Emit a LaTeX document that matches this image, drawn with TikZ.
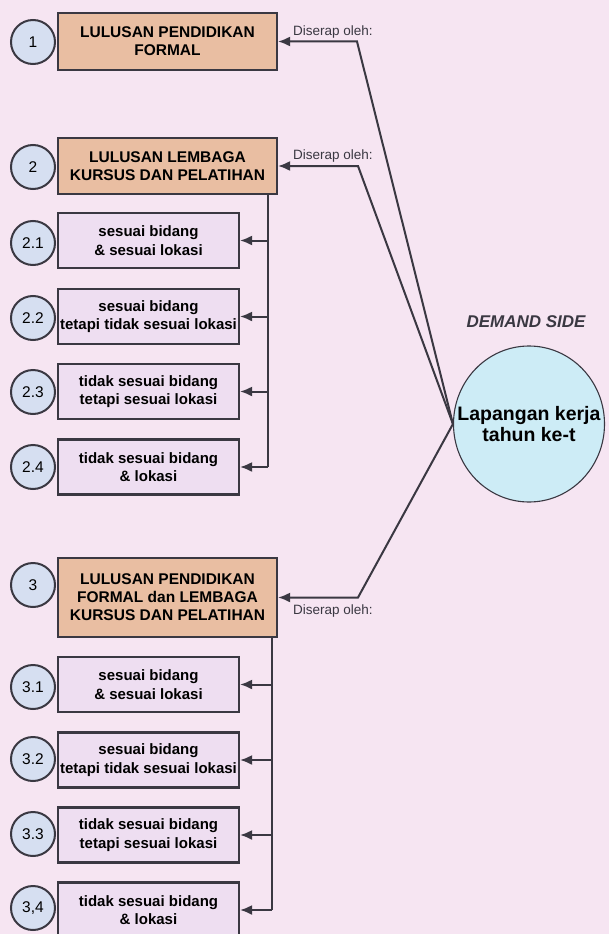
\documentclass[tikz,border=0pt]{standalone}
\usepackage{fontspec}
\setmainfont{Liberation Sans}
\usetikzlibrary{arrows.meta,shapes.geometric}

\definecolor{page}{RGB}{246,229,242}
\definecolor{ink}{RGB}{58,56,66}
\definecolor{salmon}{RGB}{233,190,162}
\definecolor{lilac}{RGB}{238,222,241}
\definecolor{numblue}{RGB}{214,223,241}
\definecolor{skyblue}{RGB}{205,236,246}

\tikzset{
  mainbox/.style={draw=ink, line width=2.1pt, fill=salmon, minimum width=219pt,
    align=center, inner sep=0pt, font=\bfseries\fontsize{15.5}{18}\selectfont},
  subbox/.style={draw=ink, line width=2.1pt, fill=lilac, minimum width=181pt,
    minimum height=55pt, align=center, inner sep=0pt,
    font=\bfseries\fontsize{15}{18.5}\selectfont},
  numdisc/.style={circle, draw=ink, line width=2pt, fill=numblue,
    minimum size=44pt, inner sep=0pt, font=\fontsize{15.5}{17}\selectfont},
  wire/.style={draw=ink, line width=2pt},
  feed/.style={wire, -{Latex[length=12pt,width=10pt]}},
  tag/.style={anchor=west, inner sep=0pt, font=\fontsize{13.5}{15}\selectfont, text=ink}
}

\begin{document}
\begin{tikzpicture}[x=1pt,y=-1pt]
\clip (0,0) rectangle (609,934);
\fill[page] (0,0) rectangle (609,934);

% supply side: graduate groups
\node[mainbox, minimum height=57pt] (g1) at (167.5,41.5) {LULUSAN PENDIDIKAN\\FORMAL};
\node[mainbox, minimum height=56pt] (g2) at (167.5,166) {LULUSAN LEMBAGA\\KURSUS DAN PELATIHAN};
\node[mainbox, minimum height=79pt] (g3) at (167.5,597.5) {LULUSAN PENDIDIKAN\\FORMAL dan LEMBAGA\\KURSUS DAN PELATIHAN};

\node[numdisc] (n1) at (33,42) {1};
\node[numdisc] (n2) at (33,167) {2};
\node[numdisc] (n3) at (33,585) {3};

% outcomes for group 2
\node[subbox] (s21) at (148.5,240.5) {sesuai bidang\\\& sesuai lokasi};
\node[subbox] (s22) at (148.5,316.5) {sesuai bidang\\tetapi tidak sesuai lokasi};
\node[subbox] (s23) at (148.5,391.5) {tidak sesuai bidang\\tetapi sesuai lokasi};
\node[subbox] (s24) at (148.5,467) {tidak sesuai bidang\\\& lokasi};
\node[numdisc] (n21) at (33,243) {2.1};
\node[numdisc] (n22) at (33,318) {2.2};
\node[numdisc] (n23) at (33,392) {2.3};
\node[numdisc] (n24) at (33,467) {2.4};

% outcomes for group 3
\node[subbox] (s31) at (148.5,684.5) {sesuai bidang\\\& sesuai lokasi};
\node[subbox] (s32) at (148.5,760) {sesuai bidang\\tetapi tidak sesuai lokasi};
\node[subbox] (s33) at (148.5,835) {tidak sesuai bidang\\tetapi sesuai lokasi};
\node[subbox] (s34) at (148.5,910) {tidak sesuai bidang\\\& lokasi};
\node[numdisc] (n31) at (33,687) {3.1};
\node[numdisc] (n32) at (33,759) {3.2};
\node[numdisc] (n33) at (33,834) {3.3};
\node[numdisc] (n34) at (33,908) {3,4};

% branching buses
\coordinate (v2) at (268,0);
\coordinate (v3) at (272,0);
\draw[wire] (g2.south -| v2) -- (v2 |- s24.east);
\foreach \s in {s21,s22,s23,s24} \draw[feed] (v2 |- \s.east) -- (\s.east);
\draw[wire] (g3.south -| v3) -- (v3 |- s34.east);
\foreach \s in {s31,s32,s33,s34} \draw[feed] (v3 |- \s.east) -- (\s.east);

% demand side
\node[font=\bfseries\itshape\fontsize{17}{19}\selectfont, text=ink] (ds) at (526,322) {DEMAND SIDE};
\node[ellipse, draw=ink, line width=1.1pt, fill=skyblue, minimum width=151pt, minimum height=156pt,
      inner sep=0pt] (lap) at (529,424) {};
\node[align=center, inner sep=0pt, font=\bfseries\fontsize{19.5}{20.5}\selectfont] (laptxt) at (lap.center)
      {Lapangan kerja\\tahun ke-t};

% absorption links
\coordinate (k1) at (357,41.5);
\coordinate (k2) at (358,166);
\coordinate (k3) at (358,597.5);
\draw[feed] (lap.west) -- (k1) -- (g1.east);
\draw[feed] (lap.west) -- (k2) -- (g2.east);
\draw[feed] (lap.west) -- (k3) -- (g3.east);

\node[tag] (d1) at (293,32) {Diserap oleh:};
\node[tag] (d2) at (293,156) {Diserap oleh:};
\node[tag] (d3) at (293,611) {Diserap oleh:};
\end{tikzpicture}
\end{document}
